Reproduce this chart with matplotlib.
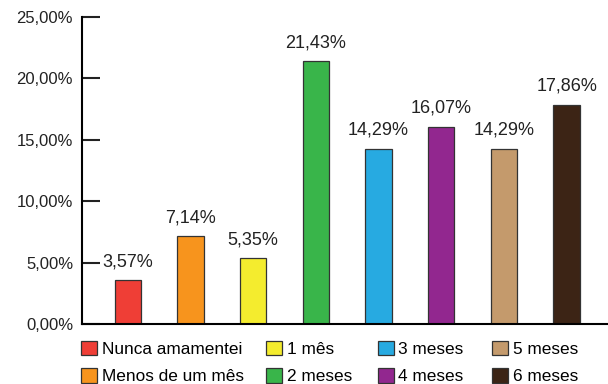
import matplotlib.pyplot as plt
import matplotlib.ticker as mticker
import numpy as np

plt.rcParams['font.family'] = ['Liberation Sans', 'DejaVu Sans']

# Dados
categorias = ["Nunca amamentei", "Menos de um mês", "1 mês", "2 meses",
              "3 meses", "4 meses", "5 meses", "6 meses"]
valores = [3.57, 7.14, 5.35, 21.43, 14.29, 16.07, 14.29, 17.86]
rotulos = ["3,57%", "7,14%", "5,35%", "21,43%", "14,29%", "16,07%", "14,29%", "17,86%"]
cores = ["#EF3E36", "#F7941D", "#F4EC2E", "#39B54A",
         "#27AAE1", "#92278F", "#C49A6C", "#3C2415"]
ticks_y = [0, 5, 10, 15, 20, 25]

fig = plt.figure(figsize=(6.08, 3.84), dpi=100)
ax = fig.add_axes([0.135, 0.156, 0.863, 0.80])

x = np.arange(len(categorias))
barras = ax.bar(x, valores, width=0.42, color=cores, edgecolor="#333333", linewidth=0.9)
ax.bar_label(barras, labels=rotulos, padding=7, fontsize=13, color="#222222")

ax.set_xlim(-0.73, 7.64)
ax.set_ylim(0, 25)
ax.set_yticks(ticks_y)
ax.yaxis.set_major_formatter(mticker.FuncFormatter(lambda v, p: f"{v:.2f}".replace(".", ",") + "%"))
ax.set_xticks([])

for lado in ["top", "right"]:
    ax.spines[lado].set_visible(False)
ax.spines["left"].set_linewidth(1.5)
ax.spines["bottom"].set_linewidth(1.5)
ax.tick_params(axis="y", direction="in", length=13, width=1.5, pad=6.5,
               labelsize=12, colors="#222222")

# Legenda em 4 colunas
colunas_x = [0.134, 0.438, 0.621, 0.810]
for i, cx in enumerate(colunas_x):
    idx = [2 * i, 2 * i + 1]
    fig.legend([barras[j] for j in idx], [categorias[j] for j in idx],
               loc="upper left", bbox_to_anchor=(cx, 0.113), frameon=False,
               fontsize=12.4, handlelength=0.93, handleheight=0.93,
               handletextpad=0.25, labelspacing=0.65, borderpad=0, borderaxespad=0)

fig.savefig("out.png", dpi=100)
